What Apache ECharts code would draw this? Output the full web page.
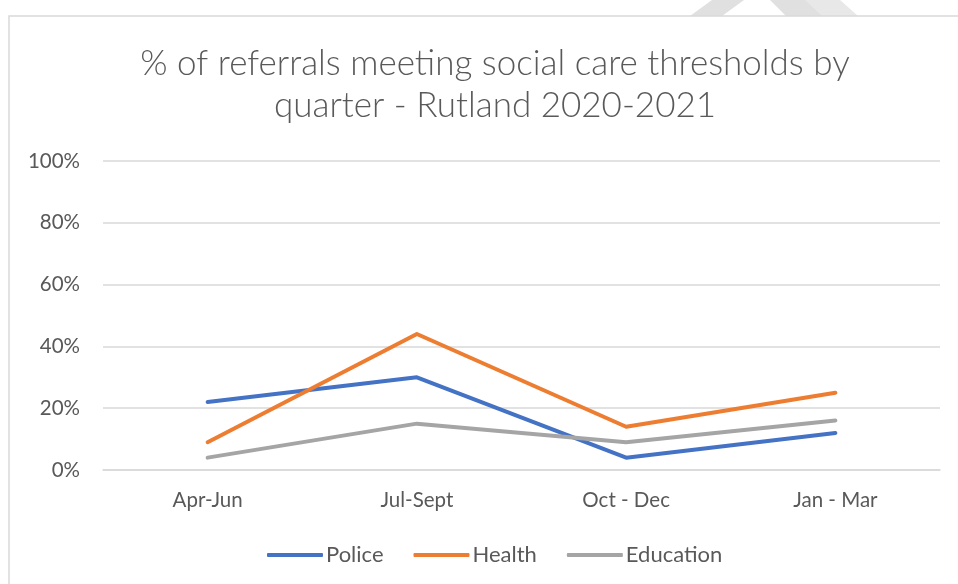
<!DOCTYPE html>
<html><head><meta charset="utf-8">
<script src="https://cdn.jsdelivr.net/npm/echarts@6/dist/echarts.min.js"></script>
<style>html,body{margin:0;padding:0;background:#fff}#c{width:958px;height:584px}</style>
</head><body><div id="c"></div>
<script>
const categories = ['Apr-Jun', 'Jul-Sept', 'Oct - Dec', 'Jan - Mar'];
const police = [0.22, 0.30, 0.04, 0.12];
const health = [0.09, 0.44, 0.14, 0.25];
const education = [0.04, 0.15, 0.09, 0.16];
const yTicks = [0, 0.2, 0.4, 0.6, 0.8, 1.0];

const FONT = 'Lato';
const chart = echarts.init(document.getElementById('c'), null, {renderer: 'canvas'});
function ser(name, data, color) {
  return {name, type: 'line', data, symbol: 'none', smooth: false,
    lineStyle: {color, width: 4, cap: 'round', join: 'round'}, itemStyle: {color}};
}
chart.setOption({
  animation: false,
  backgroundColor: '#fff',
  graphic: [
    {type: 'polygon', shape: {points: [[690,16],[712,0],[744,0],[722,16]]}, style: {fill: '#e0e0e0'}, silent: true},
    {type: 'polygon', shape: {points: [[770,0],[810,0],[827,16],[786,16]]}, style: {fill: '#e0e0e0'}, silent: true},
    {type: 'polygon', shape: {points: [[805,0],[840,0],[858,16],[822,16]]}, style: {fill: '#e8e8e8'}, silent: true},
    {type: 'rect', shape: {x: 9, y: 16, width: 960, height: 580}, style: {fill: 'none', stroke: '#d9d9d9', lineWidth: 1.5}, silent: true}
  ],
  title: {
    text: '% of referrals meeting social care thresholds by\nquarter - Rutland 2020-2021',
    left: 490, top: 38, textAlign: 'center',
    textStyle: {fontFamily: FONT, fontSize: 35, fontWeight: 300, color: '#595959', lineHeight: 42}
  },
  legend: {
    bottom: 13, left: 262, itemWidth: 56, itemHeight: 4, itemGap: 30,
    icon: 'roundRect',
    textStyle: {fontFamily: FONT, fontSize: 22, color: '#595959', padding: [0,0,0,-2]},
    data: ['Police', 'Health', 'Education']
  },
  grid: {left: 103, right: 18, top: 161, bottom: 114, containLabel: false},
  xAxis: {
    type: 'category', data: categories, boundaryGap: true,
    axisLine: {show: true, lineStyle: {color: '#d9d9d9', width: 1.5}},
    axisTick: {show: false},
    axisLabel: {fontFamily: FONT, fontSize: 20.5, color: '#595959', margin: 20}
  },
  yAxis: {
    type: 'value', min: 0, max: 1, interval: 0.2,
    axisLine: {show: false}, axisTick: {show: false},
    splitLine: {lineStyle: {color: '#d9d9d9', width: 1.5}},
    axisLabel: {fontFamily: FONT, fontSize: 20.5, color: '#595959', margin: 23,
      formatter: v => Math.round(v * 100) + '%'}
  },
  series: [
    ser('Police', police, '#4472C4'),
    ser('Health', health, '#ED7D31'),
    ser('Education', education, '#A5A5A5')
  ]
});
</script></body></html>
